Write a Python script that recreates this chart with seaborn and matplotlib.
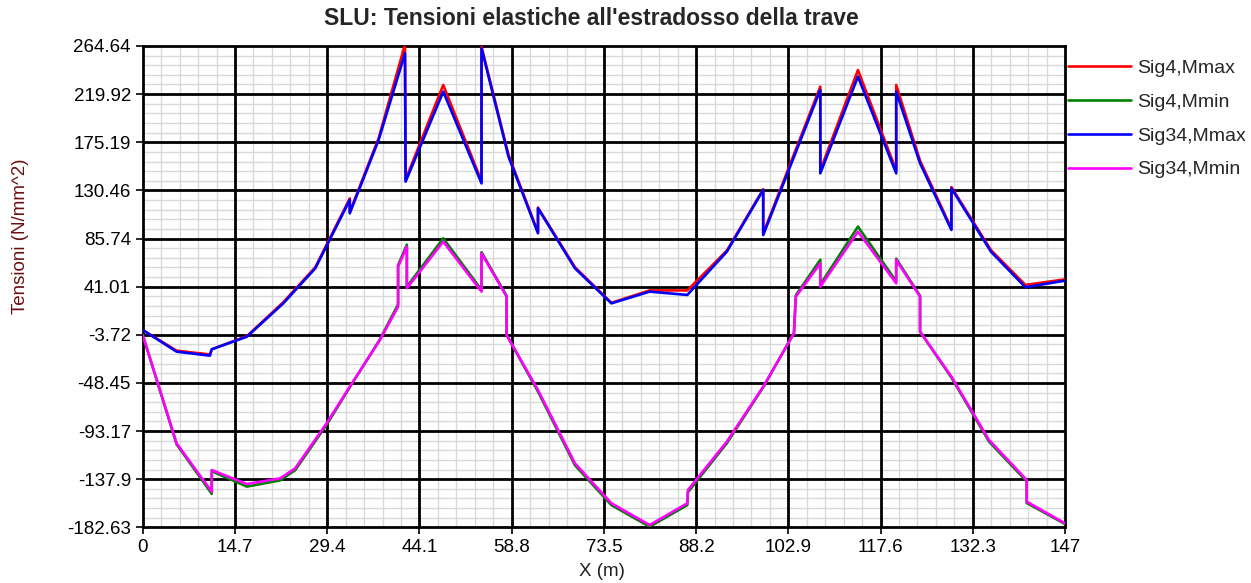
import numpy as np
import pandas as pd
import seaborn as sns
import matplotlib.pyplot as plt
from matplotlib.ticker import FixedLocator

# progressive (m) for the Mmax envelopes
x_max = [0, 5.4, 10.7, 11.0, 16.6, 22.4, 27.5, 33.0, 33.0, 37.6,
         41.8, 41.9, 47.9, 54.0, 54.0, 58.3, 63.0, 63.0, 68.9, 74.7,
         80.8, 86.8, 93.1, 98.9, 98.9, 108.0, 108.0, 114.0, 120.1, 120.1,
         123.9, 128.9, 128.9, 135.2, 140.7, 147]
sig4_mmax = [0.7, -18.5, -22.0, -17.2, -5.0, 26.5, 59.0, 123.0, 110.5, 179.0,
             266.0, 140.5, 228.4, 139.0, 264.0, 163.5, 91.5, 114.5, 59.0, 26.0,
             37.5, 37.5, 74.5, 131.5, 90.5, 226.9, 149.0, 242.3, 149.0, 228.4,
             158.0, 95.0, 133.5, 75.0, 42.6, 47.8]
sig34_mmax = [0.7, -19.4, -23.1, -17.2, -5.5, 25.5, 58.0, 121.6, 109.2, 177.3,
              257.8, 138.6, 222.2, 137.0, 262.5, 161.8, 90.6, 113.8, 58.0, 25.5,
              36.4, 33.3, 73.5, 130.8, 89.0, 223.8, 146.3, 236.2, 146.3, 222.2,
              155.6, 93.7, 132.4, 73.5, 40.4, 46.6]

# progressive (m) for the Mmin envelopes
x_min = [0, 5.4, 11.0, 11.0, 16.6, 21.9, 24.3, 29.3, 33.0, 37.8,
         40.7, 40.7, 42.1, 42.1, 47.9, 54.0, 54.0, 58.0, 58.0, 63.0,
         68.9, 74.7, 80.8, 86.8, 86.9, 93.1, 98.9, 103.8, 104.1, 108.0,
         108.0, 114.0, 120.1, 120.1, 123.9, 123.9, 128.9, 134.9, 140.9, 140.9,
         147]
sig4_mmin = [-3.9, -105.5, -151.5, -130.5, -144.8, -139.0, -129.5, -87.5, -52.5, -8.0,
             24.5, 61.0, 80.0, 41.0, 85.9, 38.0, 73.0, 32.5, -3.9, -56.5,
             -125.0, -162.0, -182.0, -162.0, -150.0, -104.5, -52.5, -2.0, 33.0, 66.0,
             43.0, 96.8, 46.0, 67.0, 32.5, -0.8, -43.5, -103.0, -140.0, -160.0,
             -179.5]
sig34_mmin = [-3.9, -104.6, -149.5, -129.4, -142.4, -137.1, -127.8, -86.0, -51.9, -8.6,
              22.4, 59.6, 78.2, 39.5, 82.8, 36.4, 72.0, 31.7, -3.9, -55.0,
              -123.2, -160.3, -180.5, -160.3, -148.0, -103.0, -51.9, -2.4, 31.7, 62.7,
              41.0, 92.1, 44.1, 65.8, 31.7, -0.8, -42.6, -101.5, -138.6, -158.8,
              -178.9]

series_names = ["Sig4,Mmax", "Sig4,Mmin", "Sig34,Mmax", "Sig34,Mmin"]
series_colors = ["#ff0000", "#008000", "#0000ff", "#ff00ff"]

x_ticks = [0, 14.7, 29.4, 44.1, 58.8, 73.5, 88.2, 102.9, 117.6, 132.3, 147]
x_labels = ["0", "14.7", "29.4", "44.1", "58.8", "73.5", "88.2", "102.9", "117.6", "132.3", "147"]
y_ticks = [264.64, 219.92, 175.19, 130.46, 85.74, 41.01, -3.72, -48.45, -93.17, -137.9, -182.63]


def minor_between(ticks, n=5):
    # n-1 minor lines inside each major interval
    out = []
    for a, b in zip(ticks[:-1], ticks[1:]):
        out.extend(np.linspace(a, b, n + 1)[1:-1])
    return out


frames = []
for name, xs, ys in zip(series_names,
                        [x_max, x_min, x_max, x_min],
                        [sig4_mmax, sig4_mmin, sig34_mmax, sig34_mmin]):
    frames.append(pd.DataFrame({"x": xs, "y": ys, "serie": name}))
df = pd.concat(frames, ignore_index=True)

sns.set_style("white")
plt.rcParams["font.family"] = ["Liberation Sans", "DejaVu Sans"]

fig = plt.figure(figsize=(12.51, 5.83), dpi=100)
ax = fig.add_axes([0.1141, 0.0955, 0.7372, 0.8256])

sns.lineplot(data=df, x="x", y="y", hue="serie", hue_order=series_names,
             palette=series_colors, estimator=None, sort=False, linewidth=1.9,
             ax=ax, legend=False, zorder=5)

ax.set_xlim(0, 147)
ax.set_ylim(-182.63, 264.64)
ax.set_xticks(x_ticks)
ax.set_xticklabels(x_labels)
ax.set_yticks(y_ticks)
ax.set_yticklabels([f"{v:g}" for v in y_ticks])
ax.xaxis.set_minor_locator(FixedLocator(minor_between(x_ticks)))
ax.yaxis.set_minor_locator(FixedLocator(minor_between(y_ticks)))
ax.grid(which="minor", color="#d9d9d9", linewidth=1.0)
ax.grid(which="major", visible=False)
ax.set_axisbelow(True)
# black major grid drawn over the light minor one
for xv in x_ticks[1:-1]:
    ax.axvline(xv, color="black", linewidth=2.0, zorder=1.5)
for yv in y_ticks[1:-1]:
    ax.axhline(yv, color="black", linewidth=2.0, zorder=1.5)
ax.tick_params(which="major", direction="out", length=5, width=1.2,
               labelsize=13.5, colors="black", left=True, bottom=True)
ax.tick_params(which="minor", length=0)
for sp in ax.spines.values():
    sp.set_color("black")
    sp.set_linewidth(2.0)

ax.set_xlabel("")
ax.set_ylabel("")
fig.text(0.481, 0.019, "X (m)", ha="center", va="center", fontsize=13.5, color="#202020")
fig.text(0.016, 0.595, "Tensioni (N/mm^2)", ha="center", va="center", rotation=90,
         fontsize=13.5, color="#6b1010")
fig.text(0.473, 0.968, "SLU: Tensioni elastiche all'estradosso della trave",
         ha="center", va="center", fontsize=16.5, fontweight="bold")

handles = [plt.Line2D([], [], color=c, linewidth=1.9) for c in series_colors]
fig.legend(handles, series_names, loc="upper left", bbox_to_anchor=(0.8537, 0.898),
           frameon=False, fontsize=14, handlelength=3.25, handletextpad=0.3,
           labelspacing=0.83, borderaxespad=0, borderpad=0)

fig.savefig("out.png", dpi=100)
